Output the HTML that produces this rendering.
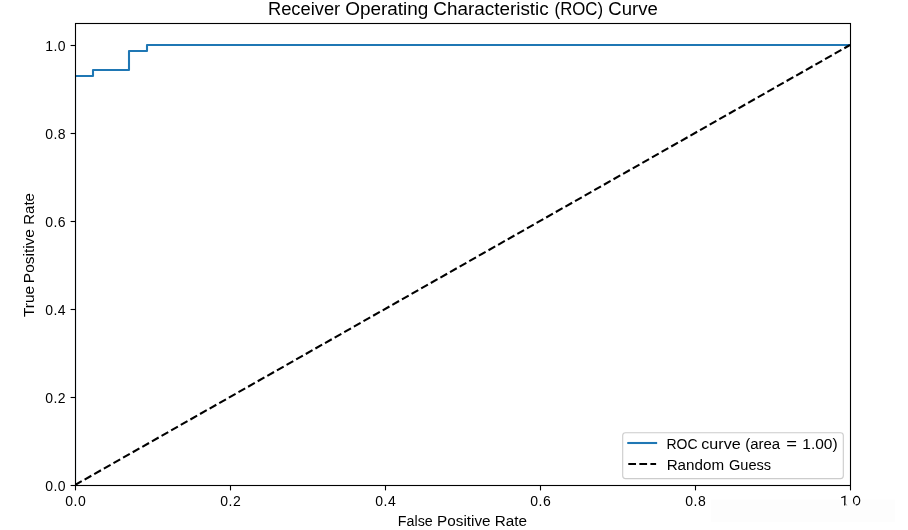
<!DOCTYPE html>
<html>
<head>
<meta charset="utf-8">
<style>
html,body{margin:0;padding:0;background:#fff;}
body{width:908px;height:530px;overflow:hidden;}
svg{display:block;will-change:transform;}
text{font-family:"Liberation Sans",sans-serif;fill:#000;}
</style>
</head>
<body>
<svg width="908" height="530" viewBox="0 0 908 530">
<rect x="0" y="0" width="908" height="530" fill="#fff"/>
<defs><clipPath id="ax"><rect x="75" y="23" width="775" height="462"/></clipPath></defs>

<!-- ROC curve -->
<path clip-path="url(#ax)" d="M75,485 L75,76 L93,76 L93,70 L129,70 L129,51 L147,51 L147,45 L850,45" fill="none" stroke="#1f77b4" stroke-width="2.08" stroke-linejoin="round" stroke-linecap="square"/>
<!-- random guess -->
<line clip-path="url(#ax)" x1="75" y1="485" x2="850" y2="45" stroke="#000" stroke-width="2.08" stroke-dasharray="7.72 3.338" stroke-linecap="butt"/>

<!-- spines -->
<rect x="75.5" y="23.5" width="775" height="462" fill="none" stroke="#000" stroke-width="1.11"/>

<!-- y ticks -->
<g stroke="#000" stroke-width="1.11">
<line x1="70.6" y1="485.5" x2="75.5" y2="485.5"/>
<line x1="70.6" y1="397.5" x2="75.5" y2="397.5"/>
<line x1="70.6" y1="309.5" x2="75.5" y2="309.5"/>
<line x1="70.6" y1="221.5" x2="75.5" y2="221.5"/>
<line x1="70.6" y1="133.5" x2="75.5" y2="133.5"/>
<line x1="70.6" y1="45.5" x2="75.5" y2="45.5"/>
<!-- x ticks -->
<line x1="75.5" y1="485.5" x2="75.5" y2="490.4"/>
<line x1="230.5" y1="485.5" x2="230.5" y2="490.4"/>
<line x1="385.5" y1="485.5" x2="385.5" y2="490.4"/>
<line x1="540.5" y1="485.5" x2="540.5" y2="490.4"/>
<line x1="695.5" y1="485.5" x2="695.5" y2="490.4"/>
<line x1="850.5" y1="485.5" x2="850.5" y2="490.4"/>
</g>

<!-- y tick labels -->
<g font-size="14" text-anchor="end">
<text x="65.6" y="491" textLength="20.4" lengthAdjust="spacing">0.0</text>
<text x="65.6" y="403" textLength="20.4" lengthAdjust="spacing">0.2</text>
<text x="65.6" y="315" textLength="20.4" lengthAdjust="spacing">0.4</text>
<text x="65.6" y="227" textLength="20.4" lengthAdjust="spacing">0.6</text>
<text x="65.6" y="139" textLength="20.4" lengthAdjust="spacing">0.8</text>
<text x="65.6" y="51" textLength="20.4" lengthAdjust="spacing">1.0</text>
</g>
<!-- x tick labels -->
<g font-size="14" text-anchor="middle">
<text x="75.5" y="506" textLength="20.4" lengthAdjust="spacing">0.0</text>
<text x="230.5" y="506" textLength="20.4" lengthAdjust="spacing">0.2</text>
<text x="385.5" y="506" textLength="20.4" lengthAdjust="spacing">0.4</text>
<text x="540.5" y="506" textLength="20.4" lengthAdjust="spacing">0.6</text>
<text x="695.5" y="506" textLength="20.4" lengthAdjust="spacing">0.8</text>
</g>
<rect x="711" y="499.5" width="184" height="22.5" fill="#fdfdfd"/>
<g fill="none" stroke="#000" stroke-linecap="round">
<path d="M841.8,497.5 L844.9,496.4 L844.7,505" stroke-width="1.25"/>
<path d="M845.2,503.5 L846.3,505" stroke-width="0.8" stroke="#555"/>
<ellipse cx="856.6" cy="500.6" rx="3.1" ry="4.2" stroke-width="1.2"/>
<path d="M854.8,504.6 L856.2,502.6" stroke="#fff" stroke-width="1.2"/>
</g>

<!-- axis labels -->
<g id="xlabel">
<text x="397.85" y="525.7" font-size="14" textLength="34.84" lengthAdjust="spacingAndGlyphs">False</text>
<text x="437.07" y="525.7" font-size="14" textLength="53.50" lengthAdjust="spacingAndGlyphs">Positive</text>
<text x="494.83" y="525.7" font-size="14" textLength="32.29" lengthAdjust="spacingAndGlyphs">Rate</text>
</g>
<g id="ylabel">
<text transform="translate(33.8,317.03) rotate(-90)" x="0" y="0" font-size="14" textLength="31.13" lengthAdjust="spacingAndGlyphs">True</text>
<text transform="translate(33.8,283.18) rotate(-90)" x="0" y="0" font-size="14" textLength="54.13" lengthAdjust="spacingAndGlyphs">Positive</text>
<text transform="translate(33.8,224.72) rotate(-90)" x="0" y="0" font-size="14" textLength="31.60" lengthAdjust="spacingAndGlyphs">Rate</text>
</g>

<!-- title -->
<g id="title">
<text x="267.91" y="14.8" font-size="17.5" textLength="72.31" lengthAdjust="spacingAndGlyphs">Receiver</text>
<text x="345.19" y="14.8" font-size="17.5" textLength="83.18" lengthAdjust="spacingAndGlyphs">Operating</text>
<text x="433.26" y="14.8" font-size="17.5" textLength="115.48" lengthAdjust="spacingAndGlyphs">Characteristic</text>
<text x="554.60" y="14.8" font-size="17.5" textLength="48.50" lengthAdjust="spacingAndGlyphs">(ROC)</text>
<text x="608.30" y="14.8" font-size="17.5" textLength="49.53" lengthAdjust="spacingAndGlyphs">Curve</text>
</g>
<!-- legend -->
<rect x="622.7" y="432.7" width="220.6" height="45.9" rx="2.8" ry="2.8" fill="#fff" fill-opacity="0.8" stroke="#cccccc" stroke-width="1.11"/>
<line x1="628.3" y1="443" x2="656.1" y2="443" stroke="#1f77b4" stroke-width="2.08" stroke-linecap="square"/>
<line x1="628.3" y1="464" x2="656.1" y2="464" stroke="#000" stroke-width="2.08" stroke-dasharray="7.72 3.338"/>
<g id="leg1">
<text x="666.48" y="448.8" font-size="14" textLength="31.07" lengthAdjust="spacingAndGlyphs">ROC</text>
<text x="701.30" y="448.8" font-size="14" textLength="39.39" lengthAdjust="spacingAndGlyphs">curve</text>
<text x="745.21" y="448.8" font-size="14" textLength="35.01" lengthAdjust="spacingAndGlyphs">(area</text>
<text x="786.39" y="448.8" font-size="14" textLength="10.75" lengthAdjust="spacingAndGlyphs">=</text>
<text x="802.31" y="448.8" font-size="14" textLength="35.35" lengthAdjust="spacingAndGlyphs">1.00)</text>
</g>
<g id="leg2">
<text x="666.65" y="470.2" font-size="14" textLength="57.43" lengthAdjust="spacingAndGlyphs">Random</text>
<text x="729.01" y="470.2" font-size="14" textLength="42.15" lengthAdjust="spacingAndGlyphs">Guess</text>
</g>
</svg>
</body>
</html>
